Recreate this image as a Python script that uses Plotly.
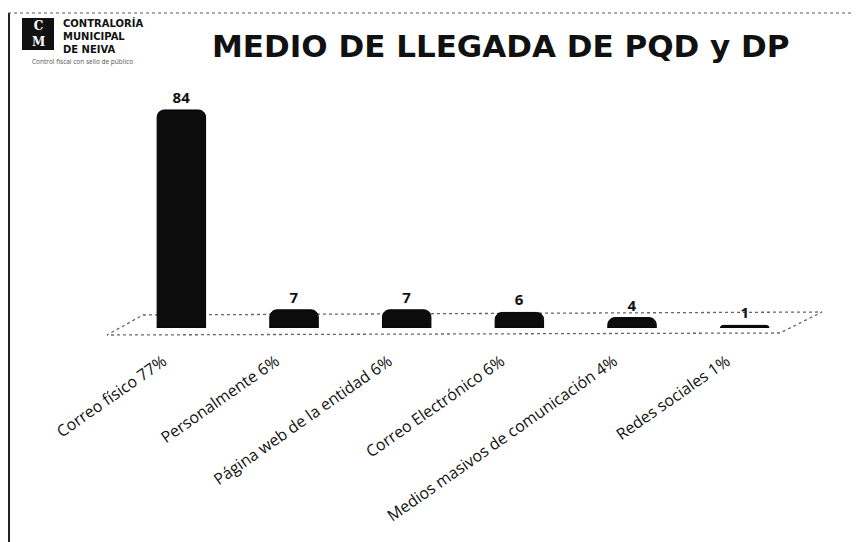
import plotly.graph_objects as go

categories = [
    "Correo físico 77%",
    "Personalmente 6%",
    "Página web de la entidad 6%",
    "Correo Electrónico 6%",
    "Medios masivos de comunicación 4%",
    "Redes sociales 1%",
]
values = [84, 7, 7, 6, 4, 1]

title_text = "MEDIO DE LLEGADA DE PQD y DP"
logo_lines = ["CONTRALORÍA", "MUNICIPAL", "DE NEIVA"]
tagline = "Control fiscal con sello de público"

# page has an 8px body margin; figure sized so it fills the window
OFF = 8
W, H = 851, 534
ML, MR, MT, MB = 99, 76, 82, 214
PW = W - ML - MR
PH = H - MT - MB


def px(x):
    """reference-picture x pixel -> paper x"""
    return (x - OFF - ML) / PW


def py(y):
    """reference-picture y pixel -> paper y"""
    return (H - MB - (y - OFF)) / PH


BAR_W = 0.43
BAR_SHIFT = 0.16  # 3D perspective: bars sit right of their labels

fig = go.Figure()
fig.add_trace(
    go.Bar(
        x=categories,
        y=values,
        width=BAR_W,
        offset=-BAR_W / 2 + BAR_SHIFT,
        marker=dict(color="#0c0c0c", line=dict(color="#000000", width=1), cornerradius=7),
        text=[str(v) for v in values],
        textposition="outside",
        textfont=dict(family="Open Sans", size=15, color="#111111", weight="bold"),
        cliponaxis=False,
        hoverinfo="x+y",
    )
)

shapes = []
# frame lines (left and top)
shapes.append(dict(type="line", xref="paper", yref="paper", x0=px(9), x1=px(9), y0=py(13), y1=py(560),
                   line=dict(color="#222222", width=2)))
shapes.append(dict(type="line", xref="paper", yref="paper", x0=px(8), x1=px(870), y0=py(13), y1=py(13),
                   line=dict(color="#555555", width=1.2, dash="dot")))
# 3D floor (dashed parallelogram)
floor = [(143, 315), (822, 312), (780, 333), (107, 335)]
path = "M " + " L ".join(f"{px(a):.5f} {py(b):.5f}" for a, b in floor) + " Z"
shapes.append(dict(type="path", xref="paper", yref="paper", path=path,
                   line=dict(color="#666666", width=1.3, dash="dot"), layer="below"))
# logo emblem
shapes.append(dict(type="rect", xref="paper", yref="paper", x0=px(22), x1=px(54), y0=py(50), y1=py(18),
                   fillcolor="#111111", line=dict(width=0)))

annotations = [
    dict(text=title_text, x=px(501), y=py(46), xref="paper", yref="paper", showarrow=False,
         font=dict(family="DejaVu Sans", size=31, color="#111111", weight="bold"),
         xanchor="center", yanchor="middle"),
    dict(text="C<br>M", x=px(38), y=py(34), xref="paper", yref="paper", showarrow=False,
         font=dict(family="DejaVu Serif", size=12, color="#ffffff", weight="bold"),
         xanchor="center", yanchor="middle"),
    dict(text="<br>".join(logo_lines), x=px(61), y=py(15), xref="paper", yref="paper",
         showarrow=False, xanchor="left", yanchor="top", align="left",
         font=dict(family="DejaVu Sans", size=10, color="#111111", weight="bold")),
    dict(text=tagline, x=px(30), y=py(62), xref="paper", yref="paper", showarrow=False,
         xanchor="left", yanchor="middle", font=dict(family="Open Sans", size=6.5, color="#555555")),
]

fig.update_layout(
    width=W, height=H,
    margin=dict(l=ML, r=MR, t=MT, b=MB),
    paper_bgcolor="white", plot_bgcolor="white",
    showlegend=False,
    shapes=shapes,
    annotations=annotations,
    xaxis=dict(tickangle=-35, tickfont=dict(family="Open Sans", size=16, color="#111111"),
               showgrid=False, showline=False, zeroline=False, ticks="", ticklabelstandoff=20,
               range=[-0.5, 5.5]),
    yaxis=dict(range=[0, 91.7], visible=False, showgrid=False, zeroline=False),
)

fig.write_html("out.html")
